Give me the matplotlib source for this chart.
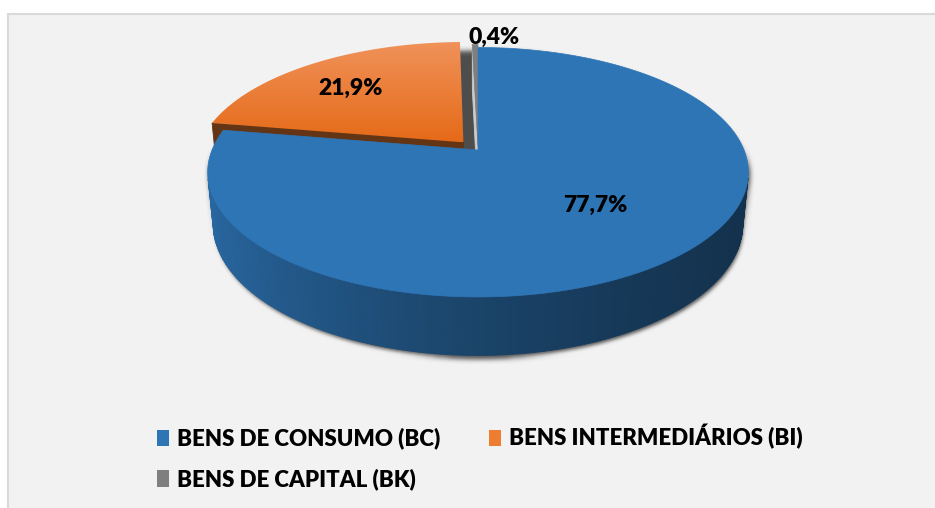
import numpy as np
import matplotlib
matplotlib.use('Agg')
import matplotlib.pyplot as plt
from matplotlib.patches import Polygon, Rectangle, Patch
from matplotlib.colors import to_rgb

categories = ['BENS DE CONSUMO (BC)', 'BENS INTERMEDIÁRIOS (BI)', 'BENS DE CAPITAL (BK)']
shares = [77.7, 21.9, 0.4]
share_labels = ['77,7%', '21,9%', '0,4%']
colors = ['#2e75b6', '#ed7d31', '#7f7f7f']
explode = [0.0, 0.085, 0.035]

plt.rcParams['font.family'] = ['Lato', 'DejaVu Sans']

W, H = 935, 508
fig = plt.figure(figsize=(W / 100, H / 100), dpi=100)
fig.patch.set_facecolor('white')
ax = fig.add_axes([0, 0, 1, 1])
ax.set_xlim(0, W)
ax.set_ylim(H, 0)
ax.axis('off')

# chart area
ax.add_patch(Rectangle((8, 14), W, H, facecolor='#f2f2f2', edgecolor='#d9d9d9', lw=1.5, zorder=0))

# simple perspective camera for the 3d pie
elev = np.radians(27)
dist = 5.0
scale = 266
cx, cy = 478, 150
depth = 0.22
cam = np.array([0.0, -dist * np.cos(elev), dist * np.sin(elev)])


def proj(P):
    P = np.atleast_2d(P)
    X, Y, Z = P[:, 0], P[:, 1], P[:, 2]
    v = Z * np.cos(elev) + Y * np.sin(elev)
    w = Y * np.cos(elev) - Z * np.sin(elev)
    s = dist / (dist + w)
    return np.column_stack([cx + scale * X * s, cy - scale * v * s])


def shade(c, f):
    c = np.array(to_rgb(c))
    if f <= 1:
        return tuple(c * f)
    return tuple(c + (1 - c) * (f - 1))


def hull(pts):
    pts = sorted(set(map(tuple, np.round(pts, 3))))
    def cross(o, a, b):
        return (a[0] - o[0]) * (b[1] - o[1]) - (a[1] - o[1]) * (b[0] - o[0])
    lo, up = [], []
    for p in pts:
        while len(lo) >= 2 and cross(lo[-2], lo[-1], p) <= 0:
            lo.pop()
        lo.append(p)
    for p in reversed(pts):
        while len(up) >= 2 and cross(up[-2], up[-1], p) <= 0:
            up.pop()
        up.append(p)
    return np.array(lo[:-1] + up[:-1])


def blur(sigma, pad):
    def f(im, dpi):
        im = np.pad(im, ((pad, pad), (pad, pad), (0, 0)))
        r = int(3 * sigma)
        k = np.exp(-0.5 * (np.arange(-r, r + 1) / sigma) ** 2)
        k /= k.sum()
        tmp = np.zeros_like(im)
        for i, kk in enumerate(k):
            tmp += kk * np.roll(im, i - r, axis=0)
        out = np.zeros_like(im)
        for i, kk in enumerate(k):
            out += kk * np.roll(tmp, i - r, axis=1)
        return out, -pad, -pad
    return f


# shadow under the pie
tt = np.linspace(0, 2 * np.pi, 361)
ring = np.column_stack([np.cos(tt), np.sin(tt)])
sil = np.vstack([proj(np.column_stack([ring, np.zeros(len(tt))])),
                 proj(np.column_stack([ring, np.full(len(tt), -depth)]))])
sh = hull(sil) + np.array([1.5, 3.5])
shadow = Polygon(sh, closed=True, facecolor='#303030', edgecolor='none', alpha=0.85, zorder=1)
shadow.set_agg_filter(blur(2.5, 12))
ax.add_patch(shadow)

total = sum(shares)
bounds = np.radians(90 - 360 * np.concatenate([[0], np.cumsum(shares)]) / total)

slices = []
for i in range(len(shares)):
    a2, a1 = bounds[i], bounds[i + 1]
    mid = (a1 + a2) / 2
    ox, oy = explode[i] * np.cos(mid), explode[i] * np.sin(mid)
    cen = np.array([ox + 0.5 * np.cos(mid), oy + 0.5 * np.sin(mid), 0])
    slices.append((np.linalg.norm(cen - cam), i, a1, a2, mid, ox, oy))
slices.sort(key=lambda s: -s[0])

label_pos = {}
for _, i, a1, a2, mid, ox, oy in slices:
    col = colors[i]
    t = np.linspace(a1, a2, max(3, int(np.degrees(a2 - a1)) + 2))
    rim = np.column_stack([ox + np.cos(t), oy + np.sin(t)])
    faces = []
    for k in range(len(t) - 1):
        tm = (t[k] + t[k + 1]) / 2
        n = np.array([np.cos(tm), np.sin(tm), 0])
        P = np.array([[rim[k, 0], rim[k, 1], 0], [rim[k + 1, 0], rim[k + 1, 1], 0],
                      [rim[k + 1, 0], rim[k + 1, 1], -depth], [rim[k, 0], rim[k, 1], -depth]])
        if n @ (cam - P.mean(0)) > 0:
            f = 0.58 - 0.24 * n[0] + 0.08 * n[0] ** 2
            faces.append((np.linalg.norm(P.mean(0) - cam), P, shade(col, f)))
    for a, n in [(a1, np.array([np.sin(a1), -np.cos(a1), 0])),
                 (a2, np.array([-np.sin(a2), np.cos(a2), 0]))]:
        P = np.array([[ox, oy, 0], [ox + np.cos(a), oy + np.sin(a), 0],
                      [ox + np.cos(a), oy + np.sin(a), -depth], [ox, oy, -depth]])
        if n @ (cam - P.mean(0)) > 0:
            f = 0.42 if i < 2 else 1.6
            faces.append((np.linalg.norm(P.mean(0) - cam), P, shade(col, f)))
    faces.sort(key=lambda f: -f[0])
    for _, P, c in faces:
        ax.add_patch(Polygon(proj(P), closed=True, facecolor=c, edgecolor=c, lw=0.6, zorder=2))
    top = proj(np.vstack([[ox, oy, 0], np.column_stack([rim, np.zeros(len(t))])]))
    if i == 1:
        poly = Polygon(top, closed=True, facecolor='none', edgecolor='none', zorder=2)
        ax.add_patch(poly)
        y0, y1 = top[:, 1].min(), top[:, 1].max()
        c0, c1 = np.array(to_rgb('#f0925a')), np.array(to_rgb('#e56a18'))
        grad = np.linspace(0, 1, 100)[:, None, None] * (c1 - c0) + c0
        grad = np.repeat(grad, 2, axis=1)
        im = ax.imshow(grad, extent=[top[:, 0].min(), top[:, 0].max(), y1, y0], aspect='auto', zorder=2)
        im.set_clip_path(poly)
    else:
        ax.add_patch(Polygon(top, closed=True, facecolor=col, edgecolor=col, lw=0.5, zorder=2))
    label_pos[i] = (mid, ox, oy)

# label offsets in display pixels (y up)
label_r = [0.62, 0.64, 1.0]
label_off = [(1, 7), (-13, 1), (19, 7)]
for i in range(len(shares)):
    mid, ox, oy = label_pos[i]
    p = proj([ox + label_r[i] * np.cos(mid), oy + label_r[i] * np.sin(mid), 0])[0]
    ax.annotate(share_labels[i], p, xytext=label_off[i], textcoords='offset pixels',
                ha='center', va='center', fontsize=16.5, fontweight='heavy', zorder=5)

# legend: reorder so rows read BC, BI / BK
handles = [Patch(facecolor=c, edgecolor='none') for c in colors]
order = [0, 2, 1]
ax.legend([handles[k] for k in order], [categories[k] for k in order], ncol=2,
          loc='upper left', bbox_to_anchor=(146, 413), bbox_transform=ax.transData,
          frameon=False, prop={'size': 16, 'weight': 'heavy'},
          handlelength=0.55, handleheight=0.75, handletextpad=0.35,
          columnspacing=2.2, labelspacing=0.85, borderpad=0)

fig.savefig('out.png', dpi=100, facecolor='white')
